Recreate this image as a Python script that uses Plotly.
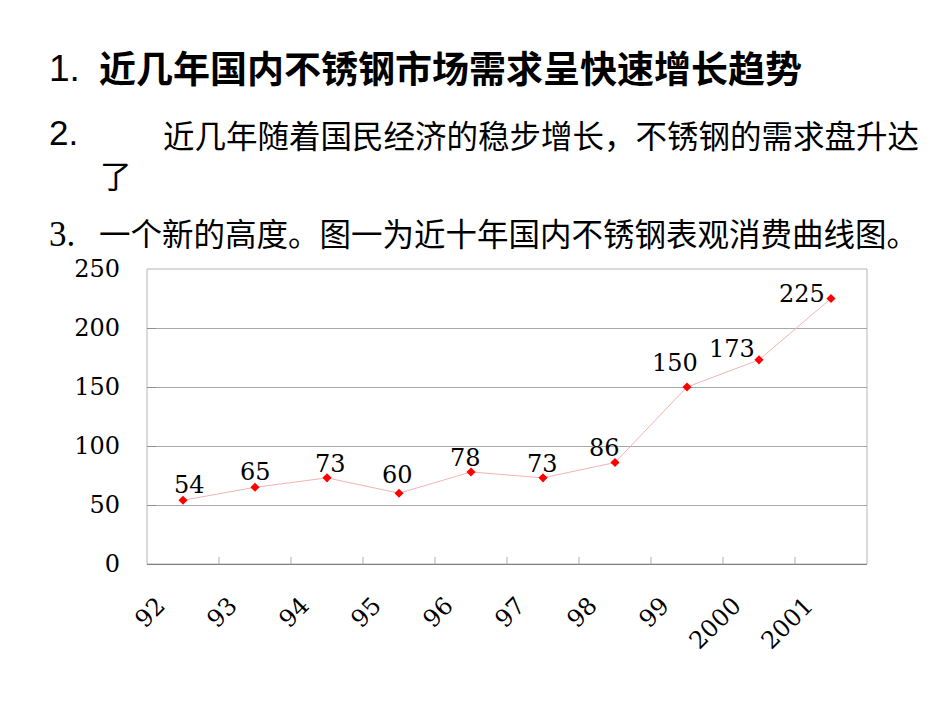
import plotly.graph_objects as go

years = ["92", "93", "94", "95", "96", "97", "98", "99", "2000", "2001"]
consumption = [54, 65, 73, 60, 78, 73, 86, 150, 173, 225]
y_ticks = [0, 50, 100, 150, 200, 250]

# label offsets (style only, pixels)
label_dx = [6, 0, 3, -2, -6, -1, -11, -12, -27, -29]
label_dy = [15, 15, 14, 18, 14, 14, 15, 24, 11, 5]

OFF = 8  # page body margin
W, H = 950 - OFF, 713 - OFF
L, R, T, B = 147 - OFF, 83, 269 - OFF, 149

fig = go.Figure()
fig.add_trace(go.Scatter(
    x=list(range(len(years))), y=consumption, mode="lines+markers",
    line=dict(color="#f2b3b3", width=1),
    marker=dict(symbol="diamond", size=7, color="#ff0000"),
    hoverinfo="skip", showlegend=False,
))

serif = "DejaVu Serif"
for i, (v, dx, dy) in enumerate(zip(consumption, label_dx, label_dy)):
    fig.add_annotation(x=i, y=v, text=str(v), showarrow=False,
                       xanchor="center", yanchor="middle",
                       xshift=dx, yshift=dy,
                       font=dict(family=serif, size=24, color="#000000"))

cjk = "Noto Sans CJK SC"
def paper(px, py):
    px -= OFF
    py -= OFF
    return (px - L) / (W - L - R), (H - B - py) / (H - T - B)

texts = [
    (47, 68, "1.", "Liberation Sans", 37),
    (97, 67, "<b>近几年国内不锈钢市场需求呈快速增长趋势</b>", cjk, 37),
    (47, 133, "2.", "Liberation Sans", 35),
    (161, 134, "近几年随着国民经济的稳步增长，不锈钢的需求盘升达", cjk, 31.5),
    (98, 174, "了", cjk, 31.5),
    (47, 234, "3.", "Liberation Serif", 35),
    (97, 232, "一个新的高度。图一为近十年国内不锈钢表观消费曲线图。", cjk, 31.5),
]
for px, py, t, fam, sz in texts:
    xp, yp = paper(px, py)
    fig.add_annotation(xref="paper", yref="paper", x=xp, y=yp, text=t,
                       showarrow=False, xanchor="left", yanchor="middle",
                       font=dict(family=fam, size=sz, color="#000000"))

fig.update_xaxes(
    tickmode="array", tickvals=list(range(len(years))), ticktext=years,
    tickangle=-45, ticks="", showline=True, linecolor="#808080", linewidth=1,
    showgrid=False, zeroline=False, ticklabelstandoff=17, ticklabelshift=-25,
    tickfont=dict(family=serif, size=24, color="#000000"),
    range=[-0.5, 9.5],
)
fig.update_yaxes(
    range=[0, 250], tickvals=y_ticks, ticks="inside", ticklen=9,
    tickcolor="#909090", tickwidth=1,
    showgrid=True, gridcolor="#a8a8a8", gridwidth=1,
    showline=False, zeroline=False,
    ticklabelstandoff=26,
    tickfont=dict(family=serif, size=24, color="#000000"),
)
# category boundary tick marks (inside)
for b in range(1, len(years)):
    fig.add_shape(type="line", xref="x", yref="paper", x0=b - 0.5, x1=b - 0.5,
                  y0=0, y1=7 / (H - T - B), line=dict(color="#b0b0b0", width=1))
# plot frame
fig.add_shape(type="rect", xref="paper", yref="paper", x0=0, y0=0, x1=1, y1=1,
              line=dict(color="#b4b4b4", width=1), layer="below")

fig.update_layout(
    width=W, height=H,
    margin=dict(l=L, r=R, t=T, b=B, pad=0),
    paper_bgcolor="#ffffff", plot_bgcolor="#ffffff",
)
fig.write_html("out.html")
